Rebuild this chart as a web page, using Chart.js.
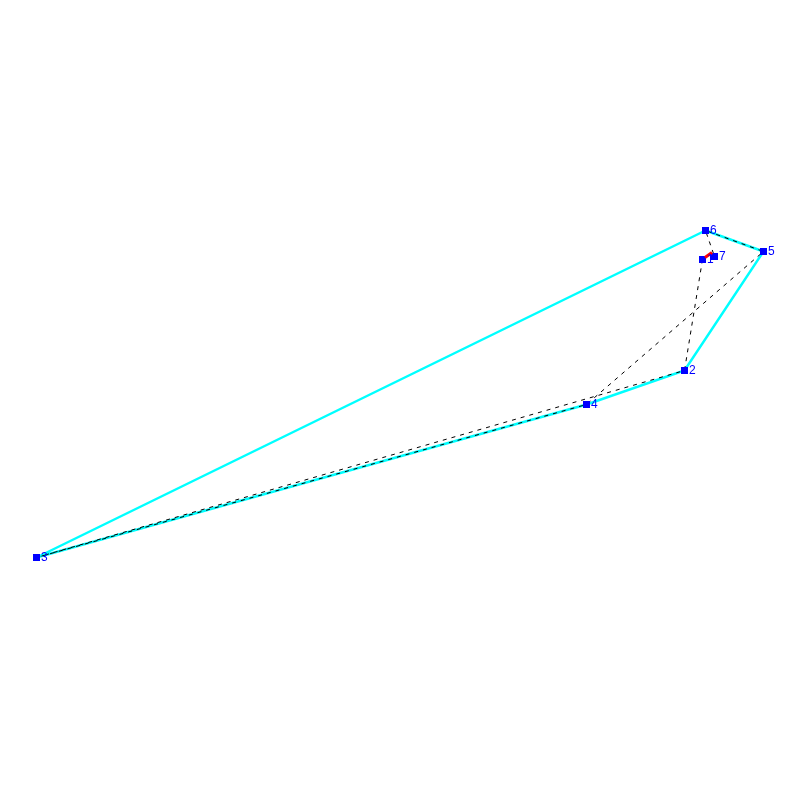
<!DOCTYPE html>
<html>
<head>
<meta charset="utf-8">
<style>html,body{margin:0;padding:0;background:#fff;overflow:hidden}#wrap{width:800px;height:800px;position:relative}canvas{display:block}</style>
<script src="https://cdn.jsdelivr.net/npm/chart.js@4/dist/chart.umd.min.js"></script>
</head>
<body>
<div id="wrap"><canvas id="c" width="800" height="800"></canvas></div>
<script>
const nodeLabels = ["1","2","3","4","5","6","7"];
const nodeX = [702.5,684.5,36.5,586.5,763.5,705.5,714.5];
const nodeY = [259.5,370.5,557.5,404.5,251.5,230.5,256.5];
const hullOrder = [5,4,1,3,2,5];
const tourOrder = [0,1,2,3,4,5,6];
const redX = [705,712];
const redY = [257.5,252.5];

const pick = order => order.map(i => ({x: nodeX[i], y: nodeY[i]}));

const nodeText = {
  id: 'nodeText',
  afterDatasetsDraw(chart) {
    const {ctx, scales} = chart;
    ctx.save();
    ctx.fillStyle = '#0000ff';
    ctx.font = '12px "Liberation Sans"';
    ctx.textAlign = 'left';
    ctx.textBaseline = 'middle';
    nodeLabels.forEach((t, i) => {
      ctx.fillText(t, scales.x.getPixelForValue(nodeX[i]) + 4.5, scales.y.getPixelForValue(nodeY[i]));
    });
    ctx.restore();
  }
};

new Chart(document.getElementById('c'), {
  type: 'scatter',
  data: {
    datasets: [
      {label:'closing', data: redX.map((x,i)=>({x, y: redY[i]})), showLine:true, borderColor:'#ff0000', borderWidth:3, pointRadius:0, order:1},
      {label:'nodes', data: pick(tourOrder), showLine:false, pointStyle:'rect', pointRadius:4.95, pointHoverRadius:4.95, pointBackgroundColor:'#0000ff', pointBorderColor:'#0000ff', pointBorderWidth:0, order:2},
      {label:'tour', data: pick(tourOrder), showLine:true, borderColor:'#000000', borderWidth:1, borderDash:[4,5], pointRadius:0, order:3},
      {label:'hull', data: pick(hullOrder), showLine:true, borderColor:'#00ffff', borderWidth:2.5, pointRadius:0, order:4}
    ]
  },
  options: {
    responsive:false,
    animation:false,
    layout:{padding:0, autoPadding:false},
    plugins:{legend:{display:false},title:{display:false},tooltip:{enabled:false}},
    scales:{
      x:{type:'linear',display:false,min:0,max:800},
      y:{type:'linear',display:false,min:0,max:800,reverse:true}
    }
  },
  plugins:[nodeText]
});
</script>
</body>
</html>
